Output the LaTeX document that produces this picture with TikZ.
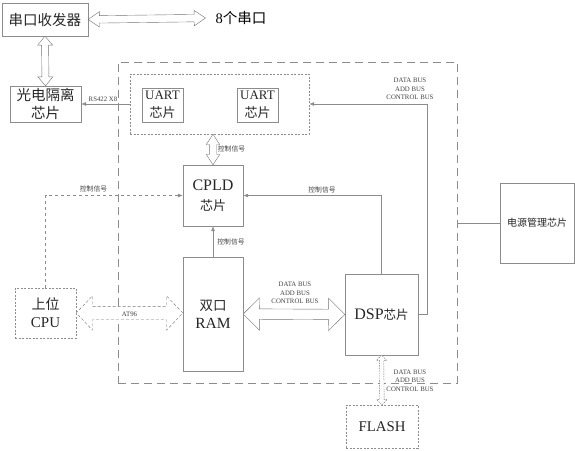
\documentclass[tikz,border=0pt]{standalone}
\usepackage{fontspec}
\setmainfont{Liberation Serif}
\newfontfamily\cjk{Noto Sans CJK SC}
\usetikzlibrary{shapes.arrows,calc,arrows.meta}

\begin{document}
\begin{tikzpicture}[x=1pt, y=-1pt, >={Latex[length=5pt,width=4pt]}]
\tikzstyle{box}=[draw=black!45, rectangle, inner sep=0pt, align=center, text=black!85]
\tikzstyle{dbox}=[box, dash pattern=on 2pt off 1.5pt]
\tikzstyle{tiny}=[font=\fontsize{6.8}{8.3}\selectfont, text=black!75, align=center, inner sep=0pt]
\tikzstyle{line}=[draw=black!45, line width=0.6pt]
\tikzstyle{hollow}=[double arrow, draw=black!55, inner xsep=0pt, fill=white, double arrow head indent=0pt]
\useasboundingbox (0,0) rectangle (575,450);
%
\node[box, minimum width=339, minimum height=321, dash pattern=on 8pt off 5pt] (board) at (287.5,222.5) {};
%
\node[box, minimum width=86, minimum height=33, font=\fontsize{14.5}{16}\selectfont\cjk] (sk) at (45,19.5) {串口收发器};
\node[font=\fontsize{14.5}{16}\selectfont, inner sep=0pt] (ports) at (241,18) {8{\cjk 个串口}};
\node[box, minimum width=71, minimum height=36, font=\fontsize{14.5}{18}\selectfont\cjk] (gd) at (45.5,104) {光电隔离\\芯片};
%
\node[dbox, minimum width=179, minimum height=60] (uartgrp) at (219.5,104) {};
\node[box, minimum width=41, minimum height=34, font=\fontsize{13}{18}\selectfont] (uart1) at (162.5,105) {UART\\{\cjk 芯片}};
\node[box, minimum width=41, minimum height=34, font=\fontsize{13}{18}\selectfont] (uart2) at (257.5,105) {UART\\{\cjk 芯片}};
%
\node[box, minimum width=60, minimum height=61, font=\fontsize{16}{20}\selectfont] (cpld) at (213,195.5) {CPLD\\{\fontsize{13}{20}\selectfont\cjk 芯片}};
\node[box, minimum width=60, minimum height=114, font=\fontsize{15.5}{18}\selectfont] (ram) at (213,314) {{\fontsize{13.5}{18}\selectfont\cjk 双口}\\RAM};
\node[box, minimum width=73, minimum height=81, font=\fontsize{16}{18}\selectfont] (dsp) at (381.5,314.5) {DSP{\fontsize{12.5}{18}\selectfont\cjk 芯片}};
\node[dbox, minimum width=72, minimum height=43, font=\fontsize{14.8}{18}\selectfont] (flash) at (382,426.5) {FLASH};
\node[dbox, minimum width=61, minimum height=50, font=\fontsize{15}{18}\selectfont] (cpu) at (45.5,313) {{\fontsize{14}{18}\selectfont\cjk 上位}\\CPU};
\node[box, minimum width=74, minimum height=80, font=\fontsize{10}{12}\selectfont\cjk] (pw) at (537,223) {电源管理芯片};
%
% hollow bus arrows
\path let \p1=(sk.east), \p2=([xshift=-10pt]ports.west), \n1={veclen(\x2-\x1,\y2-\y1)} in
  (\p1) -- (\p2) node[midway, sloped, hollow, minimum height=\n1, inner ysep=3.5pt, double arrow head extend=4pt, double arrow tip angle=69] (a1) {};
\path let \p1=(sk.south), \p2=(gd.north), \n1={veclen(\x2-\x1,\y2-\y1)} in
  (\p1) -- (\p2) node[midway, sloped, hollow, minimum height=\n1, inner ysep=3.3pt, double arrow head extend=4pt, double arrow tip angle=80] (a2) {};
\path let \p1=(uartgrp.south -| cpld.north), \p2=(cpld.north), \n1={veclen(\x2-\x1,\y2-\y1)} in
  (\p1) -- (\p2) node[midway, sloped, hollow, minimum height=\n1, inner ysep=3.5pt, double arrow head extend=3pt, double arrow tip angle=66] (a3) {};
\path let \p1=(ram.east), \p2=(dsp.west), \n1={veclen(\x2-\x1,\y2-\y1)} in
  (\p1) -- (\p2) node[midway, sloped, hollow, minimum height=\n1, inner ysep=5pt, double arrow head extend=11pt, double arrow tip angle=90] (a4) {};
\path let \p1=(cpu.east), \p2=(cpu.east -| ram.west), \n1={veclen(\x2-\x1,\y2-\y1)} in
  (\p1) -- (\p2) node[midway, sloped, hollow, dash pattern=on 3pt off 2pt, minimum height=\n1, inner ysep=6.5pt, double arrow head extend=10.5pt, double arrow tip angle=93] (a5) {};
\path let \p1=(dsp.south), \p2=(flash.north), \n1={veclen(\x2-\x1,\y2-\y1)} in
  (\p1) -- (\p2) node[midway, sloped, hollow, dash pattern=on 1.5pt off 1pt, minimum height=\n1, inner ysep=2pt, double arrow head extend=3pt, double arrow tip angle=90] (a6) {};
%
% signal lines
\draw[line, ->] (uartgrp.west) -- (gd.east);
\draw[line, dashed, ->] (cpu.north) -- (cpu.north |- cpld.west) -- (cpld.west);
\draw[line, ->] (ram.north) -- (cpld.south);
\draw[line, ->] (dsp.north) -- (dsp.north |- cpld.east) -- (cpld.east);
\draw[line, ->] (dsp.east) -- ++(9,0) |- (uartgrp.east);
\draw[line] (pw.west) -- (pw.west -| board.east);
%
% labels
\node[tiny] (rs) at (103,99) {RS422 X8};
\node[tiny, font=\fontsize{6.8}{8}\selectfont\cjk] (c1) at (93.5,189) {控制信号};
\node[tiny, font=\fontsize{6.8}{8}\selectfont\cjk] (c2) at (231.5,149) {控制信号};
\node[tiny, font=\fontsize{6.8}{8}\selectfont\cjk] (c3) at (322,190) {控制信号};
\node[tiny, font=\fontsize{6.8}{8}\selectfont\cjk] (c4) at (231,242) {控制信号};
\node[tiny] (at) at (129.5,314) {AT96};
\node[tiny] (b1) at (295,293) {DATA BUS\\ADD BUS\\CONTROL BUS};
\node[tiny] (b2) at (410,89) {DATA BUS\\ADD BUS\\CONTROL BUS};
\node[tiny] (b3) at (410,380.5) {DATA BUS\\ADD BUS\\CONTROL BUS};
\end{tikzpicture}
\end{document}
